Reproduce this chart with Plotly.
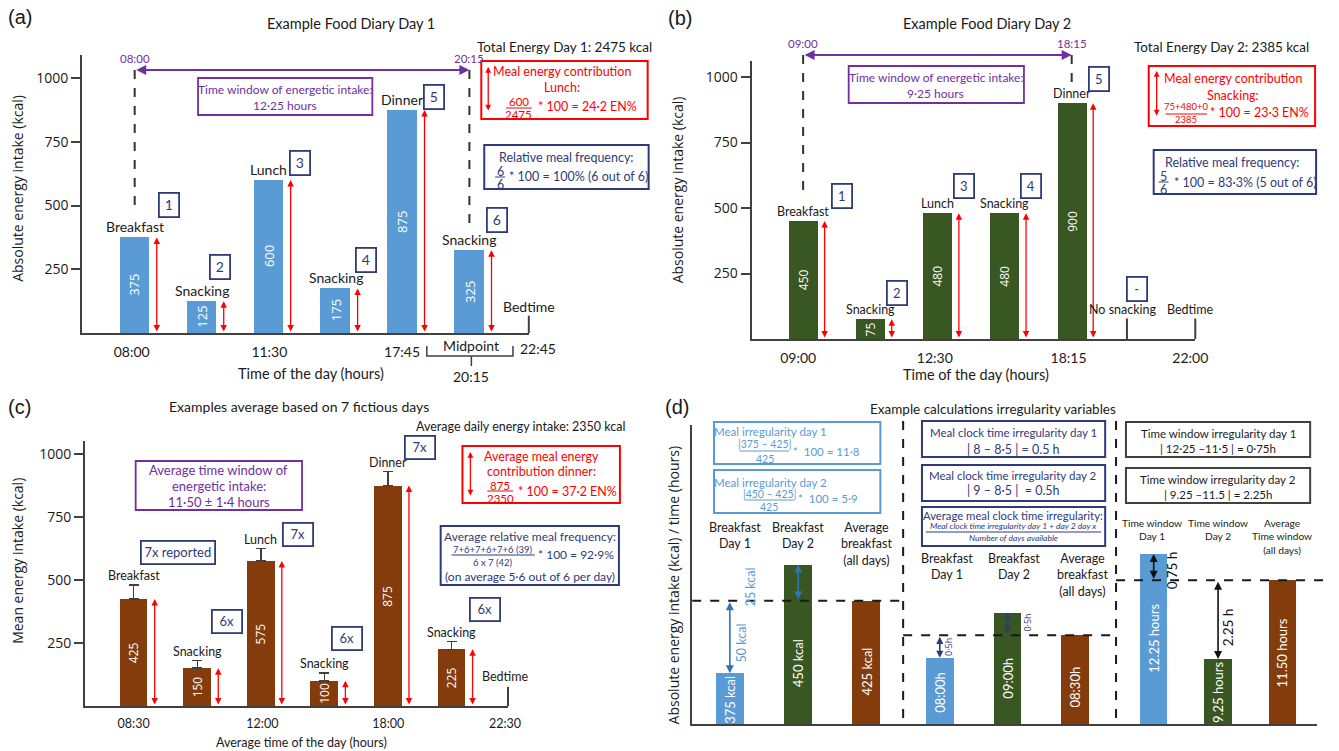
import plotly.graph_objects as go

W, H = 1339, 751
FONT = "Lato"
NUMF = "Open Sans"
TXT = "#1a1a1a"
AXC = "#404040"
BLUE = "#5B9BD5"
GREEN = "#385723"
BROWN = "#843C0C"
PURPLE = "#7030A0"
RED = "#FF0000"
NAVY = "#2F3A78"
DBLUE = "#2E75B6"
GREY = "#404040"

# ---------------- data ----------------
a_meals = ["Breakfast", "Snacking", "Lunch", "Snacking", "Dinner", "Snacking"]
a_kcal = [375, 125, 600, 175, 875, 325]
a_order = ["1", "2", "3", "4", "5", "6"]
a_times = ["08:00", "11:30", "17:45"]
a_bed_time = "22:45"
a_mid_time = "20:15"
a_window = ["08:00", "20:15"]

b_meals = ["Breakfast", "Snacking", "Lunch", "Snacking", "Dinner"]
b_kcal = [450, 75, 480, 480, 900]
b_order = ["1", "2", "3", "4", "5"]
b_times = ["09:00", "12:30", "18:15", "22:00"]
b_window = ["09:00", "18:15"]

c_meals = ["Breakfast", "Snacking", "Lunch", "Snacking", "Dinner", "Snacking"]
c_kcal = [425, 150, 575, 100, 875, 225]
c_err = [55, 30, 50, 30, 55, 30]
c_reported = ["7x reported", "6x", "7x", "6x", "7x", "6x"]
c_times = ["08:30", "12:00", "18:00", "22:30"]

d_colors = [BLUE, GREEN, BROWN]
d_kcal = [375, 450, 425]
d_kcal_text = ["375 kcal", "450 kcal", "425 kcal"]
d_kcal_cats = ["Breakfast<br>Day 1", "Breakfast<br>Day 2", "Average<br>breakfast<br>(all days)"]
d_clock = [8.0, 9.0, 8.5]
d_clock_text = ["08:00h", "09:00h", "08:30h"]
d_window = [12.25, 9.25, 11.50]
d_window_text = ["12.25 hours", "9.25 hours", "11.50 hours"]
d_window_cats = ["Time window<br>Day 1", "Time window<br>Day 2", "Average<br>Time window<br>(all days)"]

# ---------------- geometry (pixels) ----------------
GEO = {
    "a": dict(x0=83, x1=534, top=55, bot=333, c0=136, step=67.6, k=0.255, base=0),
    "b": dict(x0=759, x1=1207, top=61, bot=339, c0=811, step=67.8, k=0.262, base=0),
    "c": dict(x0=86, x1=513, top=441, bot=706, c0=135, step=64.2, k=0.252, base=0),
    "d1": dict(x0=699, x1=912, top=425, bot=724, c0=737, step=69, k=1.45, base=340),
    "d2": dict(x0=912, x1=1127, top=425, bot=724, c0=949, step=68.5, k=45, base=6.53),
    "d3": dict(x0=1127, x1=1330, top=425, bot=724, c0=1165, step=65, k=35, base=7.39),
}


def xr(g):
    return [(g["x0"] - g["c0"]) / g["step"], (g["x1"] - g["c0"]) / g["step"]]


def yr(g):
    return [g["base"], g["base"] + (g["bot"] - g["top"]) / g["k"]]


def ix(g, px):
    return (px - g["c0"]) / g["step"]


ann, shp, traces = [], [], []


def text(x, y, s, size=12, color=TXT, family=FONT, angle=0, xa="center", ya="middle",
         xref="paper", yref="paper", **kw):
    if xref == "paper":
        x = x / W
    if yref == "paper":
        y = 1 - y / H
    ann.append(dict(x=x, y=y, xref=xref, yref=yref, text=s, showarrow=False,
                    font=dict(size=size, color=color, family=family), textangle=angle,
                    xanchor=xa, yanchor=ya, **kw))


def tag(x, y, s, color=NAVY, size=13, w=14, h=17, xref="paper", yref="paper"):
    if xref == "paper":
        x = x / W
    if yref == "paper":
        y = 1 - y / H
    ann.append(dict(x=x, y=y, xref=xref, yref=yref, text=s, showarrow=False,
                    font=dict(size=size, color=color, family=FONT),
                    bordercolor=color, borderwidth=1.8, borderpad=2, bgcolor="white",
                    width=w, height=h, xanchor="center", yanchor="middle"))


def line(x0, y0, x1, y1, color=TXT, width=1, dash=None, xref="paper", yref="paper"):
    if xref == "paper":
        x0, x1 = x0 / W, x1 / W
    if yref == "paper":
        y0, y1 = 1 - y0 / H, 1 - y1 / H
    d = dict(type="line", x0=x0, y0=y0, x1=x1, y1=y1, xref=xref, yref=yref,
             line=dict(color=color, width=width))
    if dash:
        d["line"]["dash"] = dash
    shp.append(d)


def rect(x0, y0, x1, y1, color, width=2):
    shp.append(dict(type="rect", xref="paper", yref="paper", x0=x0 / W, x1=x1 / W,
                    y0=1 - y1 / H, y1=1 - y0 / H, line=dict(color=color, width=width),
                    fillcolor="rgba(0,0,0,0)"))


def varrow_px(x, y0, y1, color, width=1.3, size=1.0):
    ann.append(dict(x=x / W, y=1 - y1 / H, xref="paper", yref="paper", ax=0, ay=y0 - y1,
                    axref="pixel", ayref="pixel", text="", showarrow=True,
                    arrowhead=2, startarrowhead=2, arrowside="end+start",
                    arrowsize=size, startarrowsize=size, arrowwidth=width,
                    arrowcolor=color, standoff=0, startstandoff=0))


def varrow_data(xref, yref, x, y0, y1, color, width=1.3, size=1.0):
    ann.append(dict(x=x, y=y1, xref=xref, yref=yref, ax=x, ay=y0, axref=xref, ayref=yref,
                    text="", showarrow=True, arrowhead=2, startarrowhead=2,
                    arrowside="end+start", arrowsize=size, startarrowsize=size,
                    arrowwidth=width, arrowcolor=color, standoff=0, startstandoff=0))


def harrow_data(xref, ypx, xa, xb, color, width=2, size=1.0):
    ann.append(dict(x=xb, y=1 - ypx / H, xref=xref, yref="paper", ax=xa, ay=0,
                    axref=xref, ayref="pixel", text="", showarrow=True, arrowhead=2,
                    startarrowhead=2, arrowside="end+start", arrowsize=size,
                    startarrowsize=size, arrowwidth=width, arrowcolor=color,
                    standoff=0, startstandoff=0))


def frac(xc, yn, yd, num, den, color, size, half, ly=None):
    text(xc, yn, num, size=size, color=color)
    text(xc, yd, den, size=size, color=color)
    ly = (yn + yd) / 2 if ly is None else ly
    line(xc - half, ly, xc + half, ly, color, 1)


layout_axes = {}


def make_axes(key, xname, yname, tickvals=None, ticktext=None, tickfont=14, ytick=True,
              yline=True):
    g = GEO[key]
    xa = dict(domain=[g["x0"] / W, g["x1"] / W], range=xr(g), anchor=yname.replace("axis", ""),
              showline=True, linecolor=AXC, linewidth=2, showgrid=False, zeroline=False,
              fixedrange=True)
    if tickvals is not None:
        xa.update(tickvals=tickvals, ticktext=ticktext, ticks="outside", ticklen=5,
                  tickcolor="rgba(0,0,0,0)",
                  tickfont=dict(family=FONT, size=tickfont, color=TXT))
    else:
        xa.update(showticklabels=False, ticks="")
    ya = dict(domain=[1 - g["bot"] / H, 1 - g["top"] / H], range=yr(g),
              anchor=xname.replace("axis", ""), showline=yline, linecolor=AXC, linewidth=2,
              showgrid=False, zeroline=False, fixedrange=True)
    if ytick:
        ya.update(tickvals=[250, 500, 750, 1000], ticks="outside", ticklen=9, tickwidth=2,
                  tickcolor=AXC, tickfont=dict(family=NUMF, size=14, color=TXT))
    else:
        ya.update(showticklabels=False, ticks="")
    layout_axes[xname] = xa
    layout_axes[yname] = ya


def inner_ticks(yname, base_y, base_x, key):
    g = GEO[key]
    layout_axes[yname] = dict(overlaying=base_y, anchor=base_x, range=yr(g),
                              tickvals=[250, 500, 750, 1000], ticks="inside", ticklen=9,
                              tickwidth=2, tickcolor=AXC, showticklabels=False,
                              showline=False, showgrid=False, zeroline=False, fixedrange=True)


# =============== Panel (a) ===============
ga = GEO["a"]
make_axes("a", "xaxis", "yaxis", [ix(ga, 133), ix(ga, 272), ix(ga, 406)], a_times, 14)
inner_ticks("yaxis7", "y", "x", "a")
ia = list(range(len(a_kcal)))
traces.append(go.Bar(x=ia, y=a_kcal, width=0.444, marker=dict(color=BLUE, line=dict(width=0)),
                     xaxis="x", yaxis="y", hoverinfo="skip"))
for i, (m, v) in enumerate(zip(a_meals, a_kcal)):
    text(i, v, m, size=14, xref="x", yref="y", ya="bottom")
    text(i, v / 2, str(v), size=13, color="white", family=NUMF, angle=-90, xref="x", yref="y")
    varrow_data("x", "y", i + 0.33, 0, v, RED)
for (px, py), s in zip([(171, 205), (222, 267), (303, 163), (370, 260), (438, 97), (502, 220)],
                       a_order):
    tag(px, py, s, size=14, w=14, h=18)
# time window
first_a, last_a = 0, len(a_kcal) - 1
harrow_data("x", 70, first_a, last_a, PURPLE, 2)
line(first_a, 70, first_a, 207, "#333", 2, "dash", xref="x")
line(last_a, 70, last_a, 229, "#333", 2, "dash", xref="x")
text(first_a, 58, a_window[0], 11.5, PURPLE, xref="x")
text(last_a, 58, a_window[1], 11.5, PURPLE, xref="x")
rect(200, 78, 376, 115, PURPLE, 1.8)
text(288, 89, "Time window of energetic intake:", 12, PURPLE)
text(288, 105, "12·25 hours", 12, PURPLE)
# red box
rect(486, 61, 654, 119, RED, 2)
varrow_px(493, 112, 67, RED, 1.3, 0.9)
text(568, 72, "Meal energy contribution", 12.5, RED)
text(568, 87, "Lunch:", 12.5, RED)
frac(524, 102, 115, "600", "2475", RED, 11.5, 13, 108)
text(541, 107, "* 100 = 24·2 EN%", 12.5, RED, xa="left")
# navy box
rect(489, 145, 655, 189, NAVY, 2)
text(572, 157, "Relative meal frequency:", 12.5, NAVY)
frac(505, 171, 184, "6", "6", NAVY, 12.5, 5, 177)
text(512, 176, "* 100 = 100% (6 out of 6)", 12.5, NAVY, xa="left")
text(570, 47, "Total Energy Day 1: 2475 kcal", 13.5)
text(354, 24, "Example Food Diary Day 1", 14.5)
text(20, 17, "(a)", 20, family="Liberation Sans")
text(17, 188, "Absolute energy intake (kcal)", 14, family=NUMF, angle=-90)
text(314, 373, "Time of the day (hours)", 14.5)
# bedtime / midpoint
line(1, 0, 1, 68, AXC, 2, xref="x domain", yref="y")
text(534, 306, "Bedtime", 14)
text(543, 348, a_bed_time, 14)
shp.append(dict(type="path", xref="paper", yref="paper",
                path="M {0} {1} L {0} {2} L {3} {2} L {3} {1} M {4} {2} L {4} {5}".format(
                    431 / W, 1 - 346 / H, 1 - 356 / H, 518 / W, 476 / W, 1 - 366 / H),
                line=dict(color=AXC, width=1.5)))
text(476, 345, "Midpoint", 14)
text(476, 376, a_mid_time, 14)

# =============== Panel (b) ===============
gb = GEO["b"]
make_axes("b", "xaxis2", "yaxis2", [ix(gb, 806), ix(gb, 944), ix(gb, 1079), ix(gb, 1202)],
          b_times, 14)
inner_ticks("yaxis8", "y2", "x2", "b")
ib = list(range(len(b_kcal)))
traces.append(go.Bar(x=ib, y=b_kcal, width=0.43, marker=dict(color=GREEN, line=dict(width=0)),
                     xaxis="x2", yaxis="y2", hoverinfo="skip"))
for i, (m, v) in enumerate(zip(b_meals, b_kcal)):
    text(i, v, m, size=12.5, xref="x2", yref="y2", ya="bottom")
    text(i, v / 2, str(v), size=12, color="white", family=NUMF, angle=-90, xref="x2", yref="y2")
    varrow_data("x2", "y2", i + 0.32, 0, v, RED)
for (px, py), s in zip([(850, 196), (906, 293), (973, 186), (1041, 186), (1110, 79)], b_order):
    tag(px, py, s, size=13, w=14, h=18)
tag(1148, 289, "-", size=13, w=14, h=18)
first_b, last_b = 0, len(b_kcal) - 1
harrow_data("x2", 55, first_b, last_b, PURPLE, 2)
line(first_b, 55, first_b, 195, "#333", 2, "dash", xref="x2")
line(last_b, 55, last_b, 82, "#333", 2, "dash", xref="x2")
text(first_b, 44, b_window[0], 11.5, PURPLE, xref="x2")
text(last_b, 44, b_window[1], 11.5, PURPLE, xref="x2")
rect(857, 66, 1034, 103, PURPLE, 1.8)
text(945, 77, "Time window of energetic intake:", 12, PURPLE)
text(945, 93, "9·25 hours", 12, PURPLE)
rect(1160, 66, 1328, 126, RED, 2)
varrow_px(1168, 117, 71, RED, 1.3, 0.9)
text(1245, 79, "Meal energy contribution", 12.5, RED)
text(1245, 95, "Snacking:", 12.5, RED)
frac(1198, 107, 120, "75+480+0", "2385", RED, 9.5, 21, 114)
text(1220, 113, "* 100 = 23·3 EN%", 12.5, RED, xa="left")
rect(1165, 150, 1329, 194, NAVY, 2)
text(1244, 162, "Relative meal frequency:", 12.5, NAVY)
frac(1175, 176, 189, "5", "6", NAVY, 12.5, 5, 182)
text(1183, 182, "* 100 = 83·3% (5 out of 6)", 12.5, NAVY, xa="left")
text(1233, 47, "Total Energy Day 2: 2385 kcal", 13.5)
text(997, 24, "Example Food Diary Day 2", 14.5)
text(687, 18, "(b)", 20, family="Liberation Sans")
text(684, 190, "Absolute energy intake (kcal)", 14, family=NUMF, angle=-90)
text(986, 375, "Time of the day (hours)", 14.5)
line(ix(gb, 1138), 0, ix(gb, 1138), 78, AXC, 2, xref="x2", yref="y2")
line(1, 0, 1, 78, AXC, 2, xref="x2 domain", yref="y2")
text(1134, 309, "No snacking", 12.5)
text(1202, 309, "Bedtime", 12.5)

# =============== Panel (c) ===============
gc = GEO["c"]
make_axes("c", "xaxis3", "yaxis3", [ix(gc, 135), ix(gc, 265), ix(gc, 392), ix(gc, 510)],
          c_times, 12.5)
inner_ticks("yaxis9", "y3", "x3", "c")
ic = list(range(len(c_kcal)))
traces.append(go.Bar(x=ic, y=c_kcal, width=0.436, marker=dict(color=BROWN, line=dict(width=0)),
                     error_y=dict(type="data", array=c_err, arrayminus=[0] * len(c_err),
                                  symmetric=False, color="#404040", thickness=1.5, width=5),
                     xaxis="x3", yaxis="y3", hoverinfo="skip"))
for i, (m, v, e) in enumerate(zip(c_meals, c_kcal, c_err)):
    text(i, v + e, m, size=12.5, xref="x3", yref="y3", ya="bottom")
    text(i, v / 2, str(v), size=12, color="white", family=NUMF, angle=-90, xref="x3", yref="y3")
    varrow_data("x3", "y3", i + 0.33, 0, v, RED)
for (px, py, w), s in zip([(180, 552, 68), (229, 621, 24), (301, 534, 24), (350, 638, 24),
                           (424, 447, 24), (490, 609, 24)], c_reported):
    tag(px, py, s, size=13, w=w, h=17)
rect(137, 461, 305, 510, PURPLE, 1.8)
text(221, 470, "Average time window of", 13, PURPLE)
text(221, 486, "energetic intake:", 13, PURPLE)
text(221, 502, "11·50 ± 1·4 hours", 13, PURPLE)
rect(467, 446, 626, 503, RED, 2)
varrow_px(475, 497, 452, RED, 1.3, 0.9)
text(547, 456, "Average meal energy", 12.5, RED)
text(547, 471, "contribution dinner:", 12.5, RED)
frac(505, 485, 498, "875", "2350", RED, 11.5, 13, 491)
text(521, 491, "* 100 = 37·2 EN%", 12.5, RED, xa="left")
rect(445, 526, 625, 585, NAVY, 2)
text(535, 536, "Average relative meal frequency:", 12, NAVY)
frac(498, 549, 562, "7+6+7+6+7+6 (39)", "6 x 7 (42)", NAVY, 9.5, 42, 555)
text(541, 554, "* 100 = 92·9%", 12, NAVY, xa="left")
text(535, 576, "(on average 5·6 out of 6 per day)", 12, NAVY)
text(526, 426, "Average daily energy intake: 2350 kcal", 12.5)
text(302, 406, "Examples average based on 7 fictious days", 14)
text(20, 407, "(c)", 20, family="Liberation Sans")
text(17, 561, "Mean energy intake (kcal)", 14, family=NUMF, angle=-90)
text(304, 742, "Average time of the day (hours)", 12.5)
line(1, 0, 1, 76, AXC, 2, xref="x3 domain", yref="y3")
text(510, 676, "Bedtime", 12.5)

# =============== Panel (d) ===============
make_axes("d1", "xaxis4", "yaxis4", ytick=False, yline=True)
make_axes("d2", "xaxis5", "yaxis5", ytick=False, yline=False)
make_axes("d3", "xaxis6", "yaxis6", ytick=False, yline=False)
groups = [("x4", "y4", d_kcal, d_kcal_text, 0.406), ("x5", "y5", d_clock, d_clock_text, 0.41),
          ("x6", "y6", d_window, d_window_text, 0.43)]
inside_py = [[700, 663, 672], [692, 678, 687], [638, 692, 653]]
for (xa_, ya_, vals, labels, wd), ipy in zip(groups, inside_py):
    traces.append(go.Bar(x=[0, 1, 2], y=vals, width=wd,
                         marker=dict(color=d_colors, line=dict(width=0)),
                         xaxis=xa_, yaxis=ya_, hoverinfo="skip"))
    for i, (s, py) in enumerate(zip(labels, ipy)):
        text(i, py, s, 13, "white", FONT, -90, xref=xa_)
    # average reference line
    line(0, vals[2], 1.03 if xa_ == "x6" else 1, vals[2], "#1a1a1a", 2, "dash",
         xref=xa_ + " domain", yref=ya_)

# group 1 : kcal
varrow_data("x4", "y4", 0, d_kcal[2], d_kcal[0], DBLUE, 1.6, 1.0)
varrow_data("x4", "y4", 1, d_kcal[2], d_kcal[1], DBLUE, 1.6, 1.0)
text(0.17, 643, "50 kcal", 12.5, BLUE, FONT, -90, xref="x4")
text(0.3, 587, "25 kcal", 12.5, BLUE, FONT, -90, xref="x4")
for i, s in enumerate(d_kcal_cats):
    text(i + (0.07 if i == 0 else 0), 518, s, 12.5, xref="x4", ya="top")
# group 2 : clock time
varrow_data("x5", "y5", 0, d_clock[2], d_clock[0], NAVY, 1.6, 0.9)
varrow_data("x5", "y5", 1, d_clock[2], d_clock[1], NAVY, 1.6, 0.9)
text(0.12, 647, "0·5h", 9, NAVY, NUMF, -90, xref="x5")
text(1.28, 623, "0·5h", 9, NAVY, NUMF, -90, xref="x5")
for i, s in enumerate(d_kcal_cats):
    text(i + 0.1, 549, s, 12.5, xref="x5", ya="top")
# group 3 : time window
varrow_data("x6", "y6", 0, d_window[2], d_window[0], "#111", 1.6, 1.0)
varrow_data("x6", "y6", 1, d_window[2], d_window[1], "#111", 1.6, 1.0)
text(0.29, 570, "0.75 h", 13.5, "#111", FONT, -90, xref="x6")
text(1.16, 627, "2.25 h", 13.5, "#111", FONT, -90, xref="x6")
for i, s in enumerate(d_window_cats):
    text(i - 0.02 * (i == 0), 515, s, 10.2, xref="x6", ya="top")

# dividers
line(912, 421, 912, 724, "#1a1a1a", 2, "dash")
line(1127, 421, 1127, 724, "#1a1a1a", 2, "dash")
# light blue boxes
rect(721, 422, 889, 464, BLUE, 2)
text(778, 431, "Meal irregularity day 1", 11.5, BLUE)
frac(772, 444, 459, "|375 – 425|", "425", BLUE, 10.5, 25, 451)
text(799, 451, "*  100 = 11·8", 11.5, BLUE, xa="left")
rect(721, 470, 889, 513, BLUE, 2)
text(778, 482, "Meal irregularity day 2", 11.5, BLUE)
frac(777, 494, 507, "|450 – 425|", "425", BLUE, 10.5, 25, 500)
text(804, 499, "*  100 = 5·9", 11.5, BLUE, xa="left")
# navy boxes
rect(931, 421, 1116, 457, NAVY, 2)
text(1023, 432, "Meal clock time irregularity day 1", 11.5, NAVY)
text(1023, 449, "| 8 – 8·5 | = 0.5 h", 12.5, NAVY)
rect(931, 465, 1116, 501, NAVY, 2)
text(1023, 476, "Meal clock time irregularity day 2", 11.5, NAVY)
text(1023, 490, "| 9 – 8·5 |  = 0.5h", 12.5, NAVY)
rect(931, 507, 1116, 546, NAVY, 2)
text(1023, 515, "Average meal clock time irregularity:", 11.3, NAVY)
text(1023, 526, "<i>Meal clock time irregularity day 1 + day 2 day x</i>", 8.5, NAVY)
line(935, 532, 1112, 532, NAVY, 1)
text(1023, 538, "<i>Number of days available</i>", 8.5, NAVY)
# grey boxes
rect(1137, 422, 1323, 457, GREY, 2)
text(1230, 434, "Time window irregularity day 1", 11.5)
text(1230, 448, "| 12·25 –11·5 | = 0·75h", 11.5)
rect(1137, 468, 1323, 503, GREY, 2)
text(1230, 479, "Time window irregularity day 2", 11.5)
text(1230, 494, "| 9.25 –11.5 | = 2.25h", 11.5)
text(1003, 409, "Example calculations irregularity variables", 13.5)
text(684, 407, "(d)", 20, family="Liberation Sans")
text(680, 585, "Absolute energy intake (kcal) / time (hours)", 14, family=NUMF, angle=-90)

fig = go.Figure(traces)
fig.update_layout(width=W, height=H, margin=dict(l=0, r=0, t=0, b=0), autosize=False,
                  paper_bgcolor="white", plot_bgcolor="white", showlegend=False,
                  bargap=0, annotations=ann, shapes=shp, font=dict(family=FONT, color=TXT),
                  **layout_axes)
fig.write_html("out.html", config={"displayModeBar": False},
               post_script="document.body.style.margin='0';document.body.style.padding='0';"
                           "document.body.style.overflow='hidden';")
